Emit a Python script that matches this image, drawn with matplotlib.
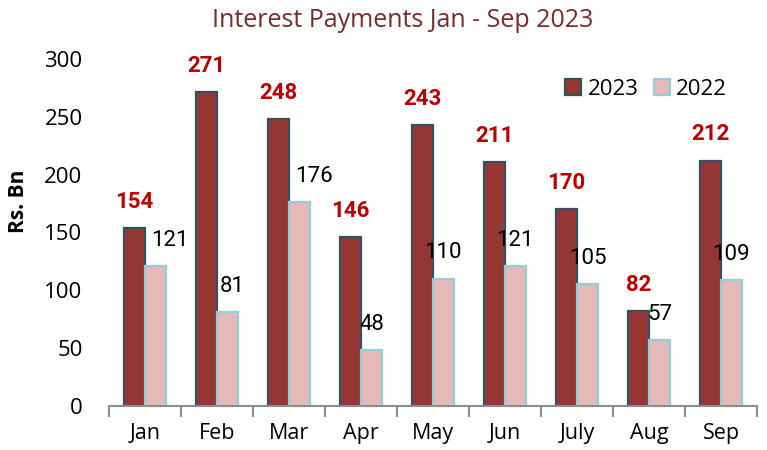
import numpy as np
import matplotlib.pyplot as plt

months = ['Jan', 'Feb', 'Mar', 'Apr', 'May', 'Jun', 'July', 'Aug', 'Sep']
pay_2023 = [154, 271, 248, 146, 243, 211, 170, 82, 212]
pay_2022 = [121, 81, 176, 48, 110, 121, 105, 57, 109]

# nudges for the 2022 labels (in category units) so they don't collide
nudge_2022 = [0.2, 0.07, 0.2, 0, 0, 0, 0, 0, 0]

plt.rcParams['font.family'] = ['Open Sans', 'DejaVu Sans']

fig = plt.figure(figsize=(7.67, 4.5), dpi=100)
ax = fig.add_axes([0.142, 0.098, 0.845, 0.771])

x = np.arange(len(months))
w = 0.29
ax.bar(x - w / 2, pay_2023, w, color='#943634', edgecolor='#2F5361',
       linewidth=1.6, label='2023')
ax.bar(x + w / 2, pay_2022, w, color='#E6B9B8', edgecolor='#92CDDC',
       linewidth=1.6, label='2022')

for i in range(len(months)):
    ax.annotate(str(pay_2023[i]), (x[i] - w / 2, pay_2023[i]), xytext=(0, 11),
                textcoords='offset points', ha='center', va='bottom',
                color='#C00000', fontsize=16, fontweight='bold', family='Roboto')
    ax.annotate(str(pay_2022[i]), (x[i] + w / 2 + nudge_2022[i], pay_2022[i]),
                xytext=(0, 11), textcoords='offset points', ha='center',
                va='bottom', color='black', fontsize=16, family='Roboto')

ax.set_xlim(-0.5, len(months) - 0.5)
ax.set_ylim(0, 300)
ax.set_yticks(range(0, 301, 50))
ax.set_xticks(x)
ax.set_xticklabels(months)
ax.set_xticks(np.arange(len(months) + 1) - 0.5, minor=True)
ax.tick_params(axis='x', which='major', length=0, labelsize=15.5, pad=12)
ax.tick_params(axis='x', which='minor', length=8, width=1.5, color='#8C8C8C')
ax.tick_params(axis='y', length=0, labelsize=16, pad=19)

for s in ['top', 'right', 'left']:
    ax.spines[s].set_visible(False)
ax.spines['bottom'].set_color('#8C8C8C')
ax.spines['bottom'].set_linewidth(1.5)

ax.set_ylabel('Rs. Bn', fontsize=15, fontweight='bold')
ax.yaxis.set_label_coords(-0.124, 0.59)
fig.text(0.525, 0.955, 'Interest Payments Jan - Sep 2023', ha='center',
         va='center', fontsize=18, color='#7A2A2A')

ax.legend(loc='upper right', bbox_to_anchor=(0.985, 1.0), ncol=2, frameon=False,
          fontsize=16, handlelength=0.7, handleheight=0.7, handletextpad=0.3,
          columnspacing=0.7)

fig.savefig('out.png', dpi=100)
